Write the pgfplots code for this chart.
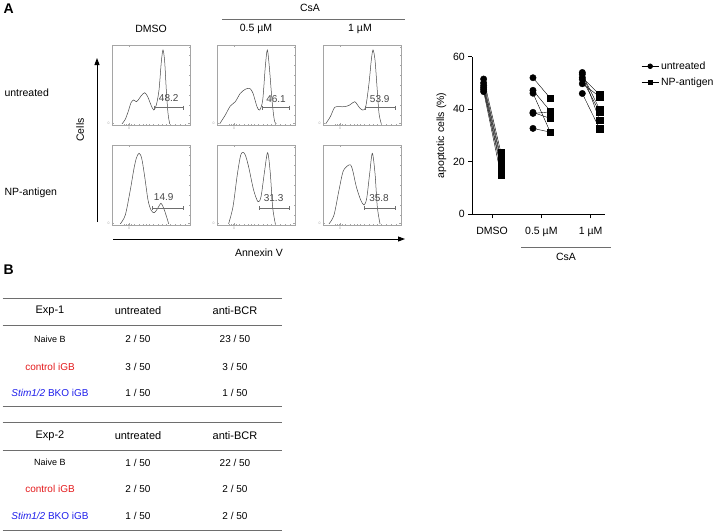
\documentclass[border=0pt]{standalone}
\usepackage{pgfplots}
\pgfplotsset{compat=1.18}
\usepackage{fontspec}
\setmainfont{Liberation Sans}
\usetikzlibrary{arrows.meta}
\definecolor{tred}{RGB}{228,26,28}
\definecolor{tblue}{RGB}{30,30,235}
\definecolor{hgray}{RGB}{70,70,70}
\definecolor{fgray}{RGB}{165,165,165}
\definecolor{lgray}{RGB}{110,110,110}

\tikzset{glabel/.style={font=\fontsize{10}{11}\selectfont, text=hgray}}
\pgfplotsset{
 hist/.style={scale only axis, width=78pt, height=80pt, xmin=0,xmax=78,ymin=0,ymax=80,
   axis line style={fgray, line width=0.4pt},
   tick style={fgray, line width=0.3pt}, tick align=inside, major tick length=2pt, minor tick length=1.3pt,
   xtick={17}, xticklabels={0}, ytick={2}, yticklabels={0},
   minor xtick={12,14,16,19,22,27,31,34,37,41,46,50,54,58,63,68,73},
   minor ytick={10,20,30,40,50,60,70,78},
   ticklabel style={font=\fontsize{3.5}{4}\selectfont, text=fgray},
   xticklabel style={yshift=1pt}, yticklabel style={xshift=1pt},
   clip=false},
 hcurve/.style={hgray, line width=0.5pt, smooth, mark=none},
 gate/.style={lgray, line width=0.5pt, mark=|, mark size=2pt, mark options={lgray,line width=0.5pt}},
}

\begin{document}
\begin{tikzpicture}
\useasboundingbox (0,0) rectangle (722pt,-531pt);

% ---------- histograms, top row ----------
\begin{axis}[hist, at={(112pt,-125pt)}]
\addplot[hcurve] coordinates {(10,1.2)(13.3,5.7)(16.7,15)(19,22.3)(21.7,25)(24.3,23.3)(26.7,25.7)(29,29)(32.7,32.3)(35.7,28.3)(39,20)(41.7,15)(44.3,20)(47,35)(49.3,63)(51,75)(52.7,63)(54.3,35)(56,11.7)(57.7,1.2)};
\addplot[gate] coordinates {(42.6,17.3)(71.6,17.3)};
\node[glabel] at (axis cs:56.7,27) {48.2};
\end{axis}
\begin{axis}[hist, at={(217pt,-125pt)}]
\addplot[hcurve] coordinates {(2.7,1.2)(8.3,10)(13.3,19)(18.3,23.3)(23.3,31.7)(28.3,35.7)(32.7,36.7)(36,31.7)(40,18.3)(42.7,15)(45.7,25)(48.3,58.3)(50.3,75)(52.3,58.3)(55,25)(57.3,5)(59.3,1.2)};
\addplot[gate] coordinates {(45,17.3)(72.6,17.3)};
\node[glabel] at (axis cs:59,26.3) {46.1};
\end{axis}
\begin{axis}[hist, at={(323pt,-125pt)}]
\addplot[hcurve] coordinates {(2.7,1.2)(7.3,8.3)(11.7,17.7)(16.7,18.3)(21.7,18.3)(26.7,20)(31.7,23.3)(35.7,18.3)(39.3,15)(42.7,18.3)(46,41.7)(48.3,65)(50,75)(52,65)(54,38.3)(56,11.7)(58.3,1.2)};
\addplot[gate] coordinates {(42.7,17.3)(72.7,17.3)};
\node[glabel] at (axis cs:56.7,26.3) {53.9};
\end{axis}

% ---------- histograms, bottom row ----------
\begin{axis}[hist, at={(112pt,-225pt)}]
\addplot[hcurve] coordinates {(8.3,1.2)(13.3,10)(18.3,35)(21.7,55)(24.3,66.7)(27,71.7)(29.7,66.7)(32.7,48.3)(36,25)(39,15)(42.3,12.3)(45.7,16.7)(49,21.7)(51.7,16.7)(54,10)(56.7,1.2)};
\addplot[gate] coordinates {(40.6,16.7)(71.6,16.7)};
\node[glabel] at (axis cs:51.7,27.7) {14.9};
\end{axis}
\begin{axis}[hist, at={(217pt,-225pt)}]
\addplot[hcurve] coordinates {(11.6,1.2)(16,18.3)(20,48.3)(23.3,68.3)(25.6,72.7)(28.3,70)(31.6,58.3)(36.6,35)(41,23.3)(44,28.3)(47.3,51.7)(50.6,72.3)(53.3,51.7)(55.6,18.3)(58.3,1.2)};
\addplot[gate] coordinates {(42.6,16.7)(72.6,16.7)};
\node[glabel] at (axis cs:56.6,27.3) {31.3};
\end{axis}
\begin{axis}[hist, at={(323pt,-225pt)}]
\addplot[hcurve] coordinates {(6,1.2)(11,10)(16,35)(20,53.3)(24.3,59)(27.7,60)(30,53.3)(33.3,38.3)(37.7,25)(41,20)(43.7,26.7)(46.7,51.7)(49.3,71.7)(52,51.7)(54.3,18.3)(57,1.2)};
\addplot[gate] coordinates {(41,16.7)(72,16.7)};
\node[glabel] at (axis cs:56,27.3) {35.8};
\end{axis}

% ---------- dot plot ----------
\begin{axis}[at={(472.3pt,-214.3pt)}, scale only axis, width=132.7pt, height=157.6pt,
 xmin=0.6, xmax=3.29, ymin=0, ymax=60,
 axis x line*=bottom, axis y line*=left, axis line style={line width=0.8pt, -},
 ytick={0,20,40,60}, xtick={1,2,3}, xticklabels={DMSO, 0.5 µM, 1 µM},
 tick align=outside, major tick length=4pt, tick style={black, line width=0.8pt},
 ylabel={apoptotic cells (\%)},
 ticklabel style={font=\fontsize{10.5}{12}\selectfont},
 xticklabel style={yshift=-5pt},
 /pgf/number format/assume math mode=true,
 label style={font=\fontsize{10.5}{12}\selectfont},
 clip=false,
 legend style={draw=none, fill=none, at={(1.25,0.995)}, anchor=north west,
   font=\fontsize{10.5}{12}\selectfont, row sep=3pt},
 legend cell align=left,
]
% DMSO pairs
\addplot[black, line width=0.4pt, forget plot] coordinates {(0.83,51.5)(1.18,23.5)};
\addplot[black, line width=0.4pt, forget plot] coordinates {(0.83,50.0)(1.18,21.5)};
\addplot[black, line width=0.4pt, forget plot] coordinates {(0.83,49.0)(1.18,20.5)};
\addplot[black, line width=0.4pt, forget plot] coordinates {(0.83,48.2)(1.18,18.5)};
\addplot[black, line width=0.4pt, forget plot] coordinates {(0.83,47.5)(1.18,17.5)};
\addplot[black, line width=0.4pt, forget plot] coordinates {(0.83,46.7)(1.18,14.9)};
% 0.5 uM pairs
\addplot[black, line width=0.4pt, forget plot] coordinates {(1.83,52.0)(2.18,44.2)};
\addplot[black, line width=0.4pt, forget plot] coordinates {(1.83,47.2)(2.18,39.3)};
\addplot[black, line width=0.4pt, forget plot] coordinates {(1.83,46.1)(2.18,31.3)};
\addplot[black, line width=0.4pt, forget plot] coordinates {(1.83,38.8)(2.18,36.5)};
\addplot[black, line width=0.4pt, forget plot] coordinates {(1.83,38.4)(2.18,39.0)};
\addplot[black, line width=0.4pt, forget plot] coordinates {(1.83,32.7)(2.18,31.3)};
% 1 uM pairs
\addplot[black, line width=0.4pt, forget plot] coordinates {(2.83,54.0)(3.18,35.8)};
\addplot[black, line width=0.4pt, forget plot] coordinates {(2.83,53.3)(3.18,40.0)};
\addplot[black, line width=0.4pt, forget plot] coordinates {(2.83,52.1)(3.18,45.5)};
\addplot[black, line width=0.4pt, forget plot] coordinates {(2.83,51.4)(3.18,38.9)};
\addplot[black, line width=0.4pt, forget plot] coordinates {(2.83,49.7)(3.18,44.8)};
\addplot[black, line width=0.4pt, forget plot] coordinates {(2.83,46.0)(3.18,32.6)};
% markers
\addplot[black, only marks, mark=*, mark size=3.2pt, forget plot] coordinates {
 (0.83,51.5)(0.83,50.0)(0.83,49.0)(0.83,48.2)(0.83,47.5)(0.83,46.7)
 (1.83,52.0)(1.83,47.2)(1.83,46.1)(1.83,38.8)(1.83,38.4)(1.83,32.7)
 (2.83,54.0)(2.83,53.3)(2.83,52.1)(2.83,51.4)(2.83,49.7)(2.83,46.0)};
\addplot[black, only marks, mark=square*, mark size=3.2pt, forget plot] coordinates {
 (1.18,23.5)(1.18,21.5)(1.18,20.5)(1.18,18.5)(1.18,17.5)(1.18,14.9)
 (2.18,44.2)(2.18,39.3)(2.18,31.3)(2.18,36.5)(2.18,39.0)(2.18,31.3)
 (3.18,35.8)(3.18,40.0)(3.18,45.5)(3.18,38.9)(3.18,44.8)(3.18,32.6)};
\addlegendimage{black, line width=0.6pt, mark=*, mark size=2.4pt}
\addlegendentry{untreated}
\addlegendimage{black, line width=0.6pt, mark=square*, mark size=2.4pt}
\addlegendentry{NP-antigen}
\end{axis}

\begin{scope}[x=1pt, y=-1pt]
\def\fs{\fontsize{10.5}{12}\selectfont}
% panel letters
\node[anchor=west, font=\fontsize{14}{16}\selectfont\bfseries] at (0,9) {A};
\node[anchor=west, font=\fontsize{14}{16}\selectfont\bfseries] at (0,270) {B};
% headers
\node[font=\fs] at (151,29) {DMSO};
\node[font=\fs] at (256,29) {0.5 µM};
\node[font=\fs] at (360,29) {1 µM};
\node[font=\fs] at (310,8) {CsA};
\draw[lgray, line width=0.6pt] (222,19) -- (405,19);
% row labels
\node[anchor=west, font=\fs] at (1,93) {untreated};
\node[anchor=west, font=\fs] at (1,193) {NP-antigen};
% axes arrows
\node[rotate=90, font=\fs] at (80,130) {Cells};
\draw[line width=0.9pt, -{Triangle[length=7pt,width=5pt]}] (97,222) -- (97,58);
\draw[line width=0.9pt, -{Triangle[length=7pt,width=5pt]}] (113,239) -- (405,239);
\node[font=\fs] at (259,253) {Annexin V};
% CsA under dot plot
\draw[lgray, line width=0.6pt] (521,247) -- (611,247);
\node[font=\fs] at (566,257) {CsA};

% ---------- table B ----------
\def\hf{\fontsize{11}{13}\selectfont}
\def\rf{\fontsize{10}{12}\selectfont}
\def\nf{\fontsize{9}{11}\selectfont}
\foreach \yy in {298.3,325,406,422.7,450,530}{
  \draw[lgray, line width=1pt] (2.7,\yy) -- (281.7,\yy);
}
% Exp-1
\node[font=\hf] at (50,311) {Exp-1};
\node[font=\hf] at (138,311) {untreated};
\node[font=\hf] at (235,311) {anti-BCR};
\node[font=\nf] at (50,339.3) {Naive B};
\node[font=\rf] at (138,339.3) {2 / 50};
\node[font=\rf] at (235,339.3) {23 / 50};
\node[font=\rf, text=tred] at (50,366.7) {control iGB};
\node[font=\rf] at (138,366.7) {3 / 50};
\node[font=\rf] at (235,366.7) {3 / 50};
\node[font=\rf, text=tblue] at (50,392.7) {\textit{Stim1/2} BKO iGB};
\node[font=\rf] at (138,392.7) {1 / 50};
\node[font=\rf] at (235,392.7) {1 / 50};
% Exp-2
\node[font=\hf] at (50,436) {Exp-2};
\node[font=\hf] at (138,436) {untreated};
\node[font=\hf] at (235,436) {anti-BCR};
\node[font=\nf] at (50,462.7) {Naive B};
\node[font=\rf] at (138,462.7) {1 / 50};
\node[font=\rf] at (235,462.7) {22 / 50};
\node[font=\rf, text=tred] at (50,489.3) {control iGB};
\node[font=\rf] at (138,489.3) {2 / 50};
\node[font=\rf] at (235,489.3) {2 / 50};
\node[font=\rf, text=tblue] at (50,516) {\textit{Stim1/2} BKO iGB};
\node[font=\rf] at (138,516) {1 / 50};
\node[font=\rf] at (235,516) {2 / 50};
\end{scope}
\end{tikzpicture}
\end{document}
